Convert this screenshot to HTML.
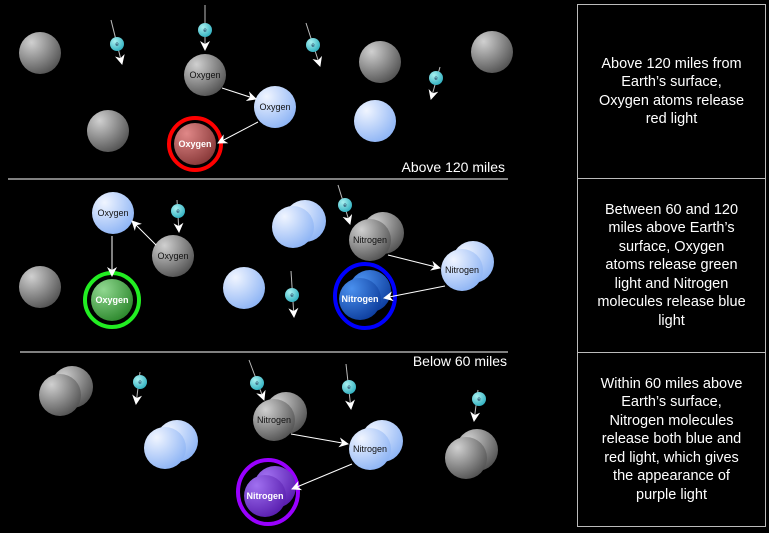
<!DOCTYPE html>
<html><head><meta charset="utf-8"><style>
html,body{margin:0;padding:0;background:#000;width:769px;height:533px;overflow:hidden}
.box{position:absolute;left:577px;width:189px;border:1px solid #bbb;color:#fff;font:14.5px "Liberation Sans",sans-serif;text-align:center;display:flex;align-items:center;justify-content:center;line-height:18.5px;box-sizing:border-box;padding:0 2px;white-space:nowrap}
svg text{font-family:"Liberation Sans",sans-serif}
</style></head><body>
<svg width="769" height="533" style="position:absolute;left:0;top:0">
<defs>
<radialGradient id="g" cx="30%" cy="25%" r="80%"><stop offset="0" stop-color="#d0d0d0"/><stop offset="1" stop-color="#555"/></radialGradient>
<radialGradient id="b" cx="30%" cy="25%" r="80%"><stop offset="0" stop-color="#f0f5ff"/><stop offset="1" stop-color="#8fb5f5"/></radialGradient>
<radialGradient id="r" cx="30%" cy="25%" r="80%"><stop offset="0" stop-color="#e08888"/><stop offset="1" stop-color="#8a3a3a"/></radialGradient>
<radialGradient id="gr" cx="30%" cy="25%" r="80%"><stop offset="0" stop-color="#90d890"/><stop offset="1" stop-color="#2f8a2f"/></radialGradient>
<radialGradient id="db" cx="30%" cy="25%" r="80%"><stop offset="0" stop-color="#4a90ee"/><stop offset="1" stop-color="#0f40a0"/></radialGradient>
<radialGradient id="p" cx="30%" cy="25%" r="80%"><stop offset="0" stop-color="#a070f0"/><stop offset="1" stop-color="#5a1fb0"/></radialGradient>
<radialGradient id="e" cx="35%" cy="30%" r="75%"><stop offset="0" stop-color="#a8f0f0"/><stop offset="1" stop-color="#30b0c0"/></radialGradient>
<marker id="a" markerWidth="10" markerHeight="10" refX="9" refY="5" orient="auto" markerUnits="userSpaceOnUse"><path d="M0,0 L10,5 L0,10 L3,5 z" fill="#fff"/></marker>
</defs>
<g stroke="#fff" stroke-width="1"><line x1="8" y1="179" x2="508" y2="179"/><line x1="20" y1="352" x2="508" y2="352"/></g>
<g stroke="#bbb" stroke-width="1" marker-end="url(#a)">
<line x1="111" y1="20" x2="122" y2="64"/><line x1="205" y1="5" x2="205" y2="50"/><line x1="306" y1="23" x2="320" y2="66"/><line x1="440" y1="67" x2="431" y2="99"/>
<line x1="177" y1="200" x2="179" y2="232"/><line x1="338" y1="185" x2="350" y2="224"/><line x1="291" y1="271" x2="294" y2="317"/>
<line x1="140" y1="372" x2="136" y2="404"/><line x1="249" y1="360" x2="264" y2="400"/><line x1="346" y1="364" x2="351" y2="409"/><line x1="478" y1="390" x2="474" y2="421"/>
</g>
<g fill="url(#e)">
<circle cx="117" cy="44" r="7"/><circle cx="205" cy="30" r="7"/><circle cx="313" cy="45" r="7"/><circle cx="436" cy="78" r="7"/>
<circle cx="178" cy="211" r="7"/><circle cx="345" cy="205" r="7"/><circle cx="292" cy="295" r="7"/>
<circle cx="140" cy="382" r="7"/><circle cx="257" cy="383" r="7"/><circle cx="349" cy="387" r="7"/><circle cx="479" cy="399" r="7"/>
</g>
<g font-size="6" fill="#235" text-anchor="middle"><text x="117" y="46">e</text><text x="205" y="32">e</text><text x="313" y="47">e</text><text x="436" y="80">e</text><text x="178" y="213">e</text><text x="345" y="207">e</text><text x="292" y="297">e</text><text x="140" y="384">e</text><text x="257" y="385">e</text><text x="349" y="389">e</text><text x="479" y="401">e</text></g>
<circle cx="40" cy="53" r="21" fill="url(#g)"/><circle cx="380" cy="62" r="21" fill="url(#g)"/><circle cx="492" cy="52" r="21" fill="url(#g)"/><circle cx="108" cy="131" r="21" fill="url(#g)"/><circle cx="375" cy="121" r="21" fill="url(#b)"/>
<circle cx="205" cy="75" r="21" fill="url(#g)"/><circle cx="275" cy="107" r="21" fill="url(#b)"/>
<circle cx="195" cy="144" r="26" fill="none" stroke="#f00" stroke-width="4"/><circle cx="195" cy="144" r="21" fill="url(#r)"/>
<circle cx="113" cy="213" r="21" fill="url(#b)"/><circle cx="173" cy="256" r="21" fill="url(#g)"/><circle cx="40" cy="287" r="21" fill="url(#g)"/><circle cx="244" cy="288" r="21" fill="url(#b)"/>
<circle cx="112" cy="300" r="27" fill="none" stroke="#2e2" stroke-width="4"/><circle cx="112" cy="300" r="21" fill="url(#gr)"/>
<circle cx="305" cy="221" r="21" fill="url(#b)"/><circle cx="293" cy="227" r="21" fill="url(#b)"/>
<circle cx="383" cy="233" r="21" fill="url(#g)"/><circle cx="370" cy="240" r="21" fill="url(#g)"/>
<circle cx="473" cy="262" r="21" fill="url(#b)"/><circle cx="462" cy="270" r="21" fill="url(#b)"/>
<ellipse cx="365" cy="296" rx="30" ry="32" fill="none" stroke="#00f" stroke-width="4"/><circle cx="370" cy="291" r="21" fill="url(#db)"/><circle cx="360" cy="299" r="21" fill="url(#db)"/>
<circle cx="72" cy="387" r="21" fill="url(#g)"/><circle cx="60" cy="395" r="21" fill="url(#g)"/>
<circle cx="177" cy="441" r="21" fill="url(#b)"/><circle cx="165" cy="448" r="21" fill="url(#b)"/>
<circle cx="477" cy="450" r="21" fill="url(#g)"/><circle cx="466" cy="458" r="21" fill="url(#g)"/>
<circle cx="286" cy="413" r="21" fill="url(#g)"/><circle cx="274" cy="420" r="21" fill="url(#g)"/>
<circle cx="382" cy="441" r="21" fill="url(#b)"/><circle cx="370" cy="449" r="21" fill="url(#b)"/>
<ellipse cx="268" cy="492" rx="30" ry="32" fill="none" stroke="#90f" stroke-width="4"/><circle cx="275" cy="487" r="21" fill="url(#p)"/><circle cx="265" cy="496" r="21" fill="url(#p)"/>
<g stroke="#fff" stroke-width="1" marker-end="url(#a)">
<line x1="222" y1="88" x2="256" y2="99"/><line x1="258" y1="122" x2="218" y2="143"/>
<line x1="156" y1="245" x2="132" y2="221"/><line x1="112" y1="236" x2="112" y2="276"/>
<line x1="388" y1="255" x2="440" y2="268"/><line x1="445" y1="286" x2="384" y2="298"/>
<line x1="291" y1="434" x2="348" y2="444"/><line x1="352" y1="464" x2="292" y2="489"/>
</g>
<g font-size="9" text-anchor="middle" fill="#111">
<text x="205" y="78">Oxygen</text><text x="275" y="110">Oxygen</text><text x="113" y="216">Oxygen</text><text x="173" y="259">Oxygen</text>
<text x="370" y="243">Nitrogen</text><text x="462" y="273">Nitrogen</text><text x="274" y="423">Nitrogen</text><text x="370" y="452">Nitrogen</text>
</g>
<g font-size="9" text-anchor="middle" fill="#fff" font-weight="bold">
<text x="195" y="147">Oxygen</text><text x="112" y="303">Oxygen</text><text x="360" y="302">Nitrogen</text><text x="265" y="499">Nitrogen</text>
</g>
<g font-size="14" fill="#fff" text-anchor="end"><text x="505" y="172">Above 120 miles</text><text x="507" y="366">Below 60 miles</text></g>
</svg>
<div class="box" style="top:4px;height:175px">Above 120 miles from<br>Earth’s surface,<br>Oxygen atoms release<br>red light</div>
<div class="box" style="top:178px;height:175px">Between 60 and 120<br>miles above Earth’s<br>surface, Oxygen<br>atoms release green<br>light and Nitrogen<br>molecules release blue<br>light</div>
<div class="box" style="top:352px;height:175px">Within 60 miles above<br>Earth’s surface,<br>Nitrogen molecules<br>release both blue and<br>red light, which gives<br>the appearance of<br>purple light</div>
</body></html>
